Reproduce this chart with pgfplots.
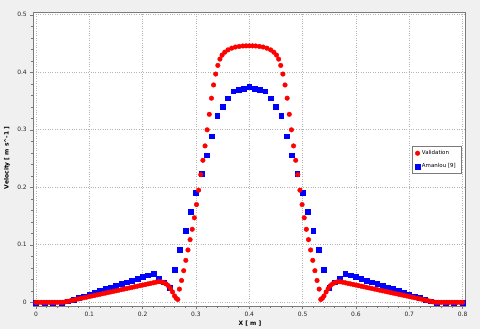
\documentclass[border=0pt]{standalone}
\usepackage{fontspec}
\setmainfont{DejaVu Sans}
\usepackage{pgfplots}
\pgfplotsset{compat=1.18}
\definecolor{fundo}{HTML}{F0F0F0}
\definecolor{moldura}{HTML}{7A7A7A}
\definecolor{grade}{HTML}{B4B4B4}
\definecolor{vermelho}{HTML}{FF0000}
\definecolor{azul}{HTML}{0000FF}
\newcommand{\fonteeixo}{\fontsize{6}{7}\selectfont}

% validation (red circles)
\pgfplotstableread{
x y
0.000 0
0.005 0
0.010 0
0.015 0
0.020 0
0.025 0
0.030 0
0.035 0
0.040 0
0.045 0
0.050 0
0.055 0.0008
0.060 0.0018
0.065 0.0028
0.070 0.0038
0.075 0.005
0.080 0.006
0.085 0.007
0.090 0.008
0.095 0.009
0.100 0.010
0.105 0.011
0.110 0.012
0.115 0.013
0.120 0.014
0.125 0.015
0.130 0.016
0.135 0.017
0.140 0.018
0.145 0.019
0.150 0.020
0.155 0.021
0.160 0.022
0.165 0.023
0.170 0.024
0.175 0.025
0.180 0.026
0.185 0.027
0.190 0.028
0.195 0.029
0.200 0.030
0.205 0.031
0.210 0.032
0.215 0.033
0.220 0.034
0.225 0.035
0.230 0.0358
0.235 0.0355
0.240 0.034
0.244 0.032
0.248 0.029
0.252 0.024
0.256 0.018
0.260 0.011
0.263 0.007
0.266 0.005
0.269 0.023
0.273 0.038
0.277 0.055
0.281 0.073
0.285 0.091
0.289 0.109
0.293 0.127
0.297 0.147
0.301 0.170
0.305 0.195
0.309 0.222
0.313 0.247
0.317 0.272
0.321 0.300
0.325 0.327
0.329 0.355
0.333 0.378
0.337 0.397
0.341 0.412
0.345 0.423
0.349 0.430
0.354 0.435
0.360 0.439
0.367 0.442
0.374 0.444
0.381 0.445
0.388 0.4458
0.394 0.446
0.400 0.446
0.406 0.446
0.412 0.4458
0.419 0.445
0.426 0.444
0.433 0.442
0.440 0.439
0.446 0.435
0.451 0.430
0.455 0.423
0.459 0.412
0.463 0.397
0.467 0.378
0.471 0.355
0.475 0.327
0.479 0.300
0.483 0.272
0.487 0.247
0.491 0.222
0.495 0.195
0.499 0.170
0.503 0.147
0.507 0.127
0.511 0.109
0.515 0.091
0.519 0.073
0.523 0.055
0.527 0.038
0.531 0.023
0.534 0.005
0.537 0.007
0.540 0.011
0.544 0.018
0.548 0.024
0.552 0.029
0.556 0.032
0.560 0.034
0.565 0.0355
0.570 0.0358
0.575 0.035
0.580 0.034
0.585 0.033
0.590 0.032
0.595 0.031
0.600 0.030
0.605 0.029
0.610 0.028
0.615 0.027
0.620 0.026
0.625 0.025
0.630 0.024
0.635 0.023
0.640 0.022
0.645 0.021
0.650 0.020
0.655 0.019
0.660 0.018
0.665 0.017
0.670 0.016
0.675 0.015
0.680 0.014
0.685 0.013
0.690 0.012
0.695 0.011
0.700 0.010
0.705 0.009
0.710 0.008
0.715 0.007
0.720 0.006
0.725 0.005
0.730 0.0038
0.735 0.0028
0.740 0.0018
0.745 0.0008
0.750 0
0.755 0
0.760 0
0.765 0
0.770 0
0.775 0
0.780 0
0.785 0
0.790 0
0.795 0
0.800 0
}\validacao

% Amanlou [9] (blue squares)
\pgfplotstableread{
x y
0.000 0
0.016 0
0.032 0
0.048 0
0.06 0.002
0.07 0.005
0.08 0.008
0.09 0.0105
0.10 0.0135
0.11 0.017
0.12 0.020
0.13 0.0235
0.14 0.026
0.15 0.029
0.16 0.032
0.17 0.035
0.18 0.038
0.19 0.041
0.20 0.044
0.21 0.047
0.22 0.050
0.23 0.042
0.24 0.035
0.25 0.025
0.26 0.057
0.27 0.091
0.28 0.124
0.29 0.157
0.30 0.190
0.31 0.223
0.32 0.256
0.33 0.289
0.34 0.324
0.35 0.340
0.36 0.355
0.37 0.367
0.38 0.370
0.39 0.372
0.40 0.375
0.41 0.372
0.42 0.370
0.43 0.367
0.44 0.355
0.45 0.340
0.46 0.324
0.47 0.289
0.48 0.256
0.49 0.223
0.50 0.190
0.51 0.157
0.52 0.124
0.53 0.091
0.54 0.057
0.55 0.025
0.56 0.035
0.57 0.042
0.58 0.050
0.59 0.047
0.60 0.044
0.61 0.041
0.62 0.038
0.63 0.035
0.64 0.032
0.65 0.029
0.66 0.026
0.67 0.0235
0.68 0.020
0.69 0.017
0.70 0.0135
0.71 0.0105
0.72 0.008
0.73 0.005
0.74 0.002
0.752 0
0.768 0
0.784 0
0.800 0
}\amanlou

\begin{document}
\begin{tikzpicture}
  \fill[fundo] (0,0) rectangle (480bp,329bp);
  \useasboundingbox (0,0) rectangle (480bp,329bp);
  \begin{axis}[
      at={(33.3bp,23bp)}, anchor=south west,
      scale only axis, width=432bp, height=293.3bp,
      xmin=-0.005, xmax=0.805, ymin=-0.0064, ymax=0.5037,
      xtick={0,0.1,0.2,0.3,0.4,0.5,0.6,0.7,0.8},
      ytick={0,0.1,0.2,0.3,0.4,0.5},
      minor tick num=4,
      tick align=outside, xtick pos=left, ytick pos=left,
      major tick length=3bp, minor tick length=2bp,
      grid=major,
      grid style={dotted, grade, line width=0.7bp},
      axis line style={moldura, line width=0.9bp},
      tick style={moldura, line width=0.5bp},
      ticklabel style={font=\fonteeixo, text=black!85},
      /pgf/number format/assume math mode=true,
      /pgf/number format/fixed,
      axis background/.style={fill=white},
      legend style={at={(rel axis cs:0.8766,0.5465)}, anchor=north west,
        font=\fontsize{5.5}{6.5}\selectfont, draw=moldura, fill=white,
        inner xsep=3bp, inner ysep=2.5bp, row sep=3.5bp},
      legend cell align=left,
    ]
    \addlegendimage{only marks, mark=*, mark size=2.3bp, vermelho}
    \addlegendentry{Validation}
    \addlegendimage{only marks, mark=square*, mark size=2.4bp, azul}
    \addlegendentry{Amanlou [9]}
    \addplot[only marks, mark=square*, mark size=2.4bp, azul, forget plot] table {\amanlou};
    \addplot[only marks, mark=*, mark size=2.3bp, vermelho, forget plot] table {\validacao};
  \end{axis}
  \node[font=\bfseries\fontsize{6}{7}\selectfont, rotate=90] at (7bp,171bp) {Velocity [ m s\^{}-1 ]};
  \node[font=\bfseries\fontsize{6}{7}\selectfont, anchor=north, inner sep=0pt] at (250bp,8.5bp) {X [ m ]};
\end{tikzpicture}
\end{document}
